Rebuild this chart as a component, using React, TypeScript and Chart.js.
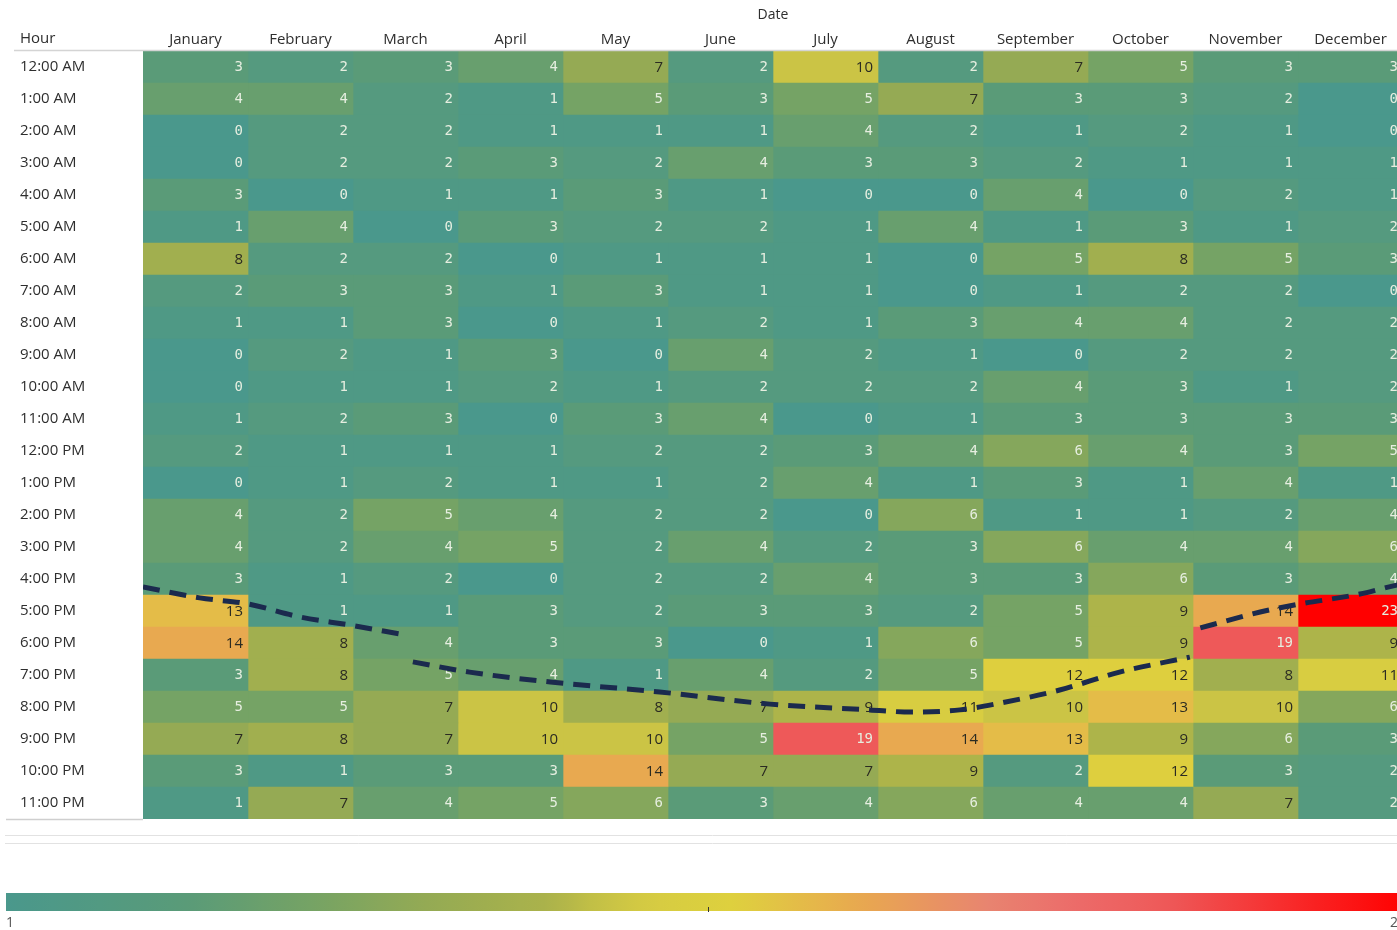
import React, { useEffect, useRef } from "react";
import { Chart, registerables } from "chart.js";

Chart.register(...registerables);

// ---------- data ----------
const months = [
  "January", "February", "March", "April", "May", "June",
  "July", "August", "September", "October", "November", "December",
];

const hours = [
  "12:00 AM", "1:00 AM", "2:00 AM", "3:00 AM", "4:00 AM", "5:00 AM",
  "6:00 AM", "7:00 AM", "8:00 AM", "9:00 AM", "10:00 AM", "11:00 AM",
  "12:00 PM", "1:00 PM", "2:00 PM", "3:00 PM", "4:00 PM", "5:00 PM",
  "6:00 PM", "7:00 PM", "8:00 PM", "9:00 PM", "10:00 PM", "11:00 PM",
];

// counts per hour (12 AM .. 11 PM) for each month
const january = [3, 4, 0, 0, 3, 1, 8, 2, 1, 0, 0, 1, 2, 0, 4, 4, 3, 13, 14, 3, 5, 7, 3, 1];
const february = [2, 4, 2, 2, 0, 4, 2, 3, 1, 2, 1, 2, 1, 1, 2, 2, 1, 1, 8, 8, 5, 8, 1, 7];
const march = [3, 2, 2, 2, 1, 0, 2, 3, 3, 1, 1, 3, 1, 2, 5, 4, 2, 1, 4, 5, 7, 7, 3, 4];
const april = [4, 1, 1, 3, 1, 3, 0, 1, 0, 3, 2, 0, 1, 1, 4, 5, 0, 3, 3, 4, 10, 10, 3, 5];
const may = [7, 5, 1, 2, 3, 2, 1, 3, 1, 0, 1, 3, 2, 1, 2, 2, 2, 2, 3, 1, 8, 10, 14, 6];
const june = [2, 3, 1, 4, 1, 2, 1, 1, 2, 4, 2, 4, 2, 2, 2, 4, 2, 3, 0, 4, 7, 5, 7, 3];
const july = [10, 5, 4, 3, 0, 1, 1, 1, 1, 2, 2, 0, 3, 4, 0, 2, 4, 3, 1, 2, 9, 19, 7, 4];
const august = [2, 7, 2, 3, 0, 4, 0, 0, 3, 1, 2, 1, 4, 1, 6, 3, 3, 2, 6, 5, 11, 14, 9, 6];
const september = [7, 3, 1, 2, 4, 1, 5, 1, 4, 0, 4, 3, 6, 3, 1, 6, 3, 5, 5, 12, 10, 13, 2, 4];
const october = [5, 3, 2, 1, 0, 3, 8, 2, 4, 2, 3, 3, 4, 1, 1, 4, 6, 9, 9, 12, 13, 9, 12, 4];
const november = [3, 2, 1, 1, 2, 1, 5, 2, 2, 2, 1, 3, 3, 4, 2, 4, 3, 14, 19, 8, 10, 6, 3, 7];
const december = [3, 0, 0, 1, 1, 2, 3, 0, 2, 2, 2, 3, 5, 1, 4, 6, 4, 23, 9, 11, 6, 3, 2, 2];

const monthValues = [
  january, february, march, april, may, june,
  july, august, september, october, november, december,
];

// hand-drawn dashed annotation (month position, hour position), null = break
const curveMonthPos = [
  0, 0.54, 1.0, 1.5, 1.97, 2.45,
  null,
  2.57, 3.11, 3.88, 4.92, 5.97, 6.92, 7.32, 7.78, 8.16, 8.73, 9.3, 9.97,
  null,
  10.07, 10.64, 11.02, 11.59, 11.94, 12.0,
];
const curveHourPos = [
  16.75, 17.09, 17.28, 17.69, 17.94, 18.22,
  null,
  19.09, 19.41, 19.72, 20.03, 20.41, 20.59, 20.66, 20.59, 20.38, 19.97, 19.41, 18.94,
  null,
  18.03, 17.53, 17.28, 16.97, 16.69, 16.66,
];

const legendMinLabel = "1";
const legendMaxLabel = "23";

// ---------- styles ----------
const FONT = "'Open Sans', 'DejaVu Sans', sans-serif";
const MONO = "'DejaVu Sans Mono', 'Liberation Mono', monospace";
const TEXT = "#2e2e2e";

const stops: [number, number[]][] = [
  [0.0, [74, 152, 140]],
  [0.13, [90, 155, 120]],
  [0.22, [118, 163, 100]],
  [0.3, [148, 170, 84]],
  [0.39, [172, 179, 74]],
  [0.42, [196, 192, 70]],
  [0.46, [214, 204, 66]],
  [0.52, [222, 208, 62]],
  [0.565, [228, 188, 72]],
  [0.61, [232, 168, 80]],
  [0.7, [232, 132, 112]],
  [0.76, [236, 108, 106]],
  [0.83, [238, 88, 88]],
  [0.92, [248, 40, 40]],
  [1.0, [255, 0, 0]],
];

function rampColor(t: number): string {
  const tt = Math.max(0, Math.min(1, t));
  for (let i = 1; i < stops.length; i++) {
    if (tt <= stops[i][0]) {
      const [t0, c0] = stops[i - 1];
      const [t1, c1] = stops[i];
      const f = (tt - t0) / (t1 - t0);
      const c = c0.map((v, k) => Math.round(v + (c1[k] - v) * f));
      return `rgb(${c[0]},${c[1]},${c[2]})`;
    }
  }
  const c = stops[stops.length - 1][1];
  return `rgb(${c[0]},${c[1]},${c[2]})`;
}

export default function App() {
  const ref = useRef<HTMLCanvasElement>(null);

  useEffect(() => {
    document.body.style.margin = "0";
    const canvas = ref.current;
    if (!canvas) return;
    const all = monthValues.flat();
    const vmin = Math.min(...all);
    const vmax = Math.max(...all);
    const norm = (v: number) => (v - vmin) / (vmax - vmin);

    const barDatasets = months.map((m, mi) => ({
      type: "bar" as const,
      label: m,
      data: hours.map(() => 1),
      backgroundColor: monthValues[mi].map((v) => rampColor(norm(v))),
      borderWidth: 0,
      categoryPercentage: 1,
      barPercentage: 1,
      grouped: false,
      indexAxis: "y" as const,
      xAxisID: "x",
      yAxisID: "y",
      stack: "grid",
      order: 1,
    }));

    const lineDataset = {
      type: "line" as const,
      label: "trend",
      data: curveMonthPos.map((x, i) => ({ x, y: curveHourPos[i] })),
      xAxisID: "xc",
      yAxisID: "yc",
      borderColor: "#1b2a4e",
      borderWidth: 5,
      borderDash: [17, 10],
      borderCapStyle: "butt" as const,
      pointRadius: 0,
      cubicInterpolationMode: "monotone" as const,
      spanGaps: false,
      fill: false,
      order: 0,
    };

    const overlay = {
      id: "overlay",
      beforeDraw(chart: any) {
        const c = chart.ctx;
        c.save();
        c.fillStyle = "#ffffff";
        c.fillRect(0, 0, chart.width, chart.height);
        c.restore();
      },
      beforeDatasetDraw(chart: any, args: any) {
        if (args.meta.type !== "line") return;
        const c = chart.ctx;
        c.save();
        c.textAlign = "right";
        c.textBaseline = "middle";
        monthValues.forEach((vals, mi) => {
          const meta = chart.getDatasetMeta(mi);
          meta.data.forEach((el: any, hi: number) => {
            const v = vals[hi];
            const dark = v >= 7 && v <= 16;
            c.fillStyle = dark ? "#2b2b22" : "#e6eee0";
            c.font = dark ? `15px ${FONT}` : `14px ${MONO}`;
            c.fillText(String(v), el.x - 5, el.y + 0.5);
          });
        });
        c.restore();
      },
      afterDraw(chart: any) {
        const c = chart.ctx;
        const area = chart.chartArea;
        const W = chart.width;
        c.save();
        // row header title
        c.font = `15px ${FONT}`;
        c.fillStyle = TEXT;
        c.textAlign = "left";
        c.textBaseline = "middle";
        c.fillText("Hour", 20, 39);
        // header rule
        c.strokeStyle = "#d4d4d4";
        c.lineWidth = 1.5;
        c.beginPath();
        c.moveTo(14, area.top - 0.5);
        c.lineTo(W, area.top - 0.5);
        c.stroke();
        // bottom rule under row labels
        c.strokeStyle = "#cfcfcf";
        c.lineWidth = 1.5;
        c.beginPath();
        c.moveTo(6, area.bottom + 0.5);
        c.lineTo(area.left, area.bottom + 0.5);
        c.stroke();
        // separator lines
        c.strokeStyle = "#e2e2e2";
        c.lineWidth = 1;
        [835.5, 843.5].forEach((y) => {
          c.beginPath();
          c.moveTo(5, y);
          c.lineTo(W, y);
          c.stroke();
        });
        // colour legend
        const lx0 = 6, lx1 = 1409, ly0 = 893, ly1 = 911;
        const g = c.createLinearGradient(lx0, 0, lx1, 0);
        for (let i = 0; i <= 60; i++) g.addColorStop(i / 60, rampColor(i / 60));
        c.fillStyle = g;
        c.fillRect(lx0, ly0, lx1 - lx0, ly1 - ly0);
        c.strokeStyle = "#333";
        c.lineWidth = 1;
        const mid = Math.round((lx0 + lx1) / 2) + 0.5;
        c.beginPath();
        c.moveTo(mid, ly1 - 4);
        c.lineTo(mid, ly1 + 1);
        c.stroke();
        c.font = `14px ${FONT}`;
        c.fillStyle = "#555";
        c.textBaseline = "top";
        c.textAlign = "left";
        c.fillText(legendMinLabel, 6, 916);
        c.textAlign = "right";
        c.fillText(legendMaxLabel, 1406, 916);
        c.restore();
      },
    };

    const chart = new Chart(canvas, {
      type: "bar",
      data: {
        labels: hours,
        datasets: [...barDatasets, lineDataset] as any,
      },
      options: {
        animation: false,
        responsive: false,
        maintainAspectRatio: false,
        events: [],
        layout: { padding: { left: 20, right: 17, top: 0, bottom: 111 } },
        plugins: {
          legend: { display: false },
          tooltip: { enabled: false },
        },
        scales: {
          x: { type: "linear", stacked: true, offset: false, min: 0, max: 12, display: false },
          y: {
            type: "category",
            stacked: true,
            position: "left",
            offset: true,
            grid: { display: false, drawTicks: false },
            border: { display: false },
            ticks: {
              crossAlign: "far",
              autoSkip: false,
              padding: 0,
              color: TEXT,
              font: { family: FONT, size: 15 },
            },
            afterFit: (s: any) => {
              s.width = 123;
            },
          },
          xTop: {
            type: "category",
            labels: months,
            position: "top",
            offset: true,
            grid: { display: false, drawTicks: false },
            border: { display: false },
            ticks: {
              autoSkip: false,
              maxRotation: 0,
              padding: 2,
              color: TEXT,
              font: { family: FONT, size: 15 },
            },
            title: {
              display: true,
              text: "Date",
              color: TEXT,
              font: { family: FONT, size: 14 },
              padding: { top: 7, bottom: 0 },
            },
            afterFit: (s: any) => {
              s.height = 51;
            },
          },
          xc: { type: "linear", offset: false, min: 0, max: 12, display: false },
          yc: { type: "linear", offset: false, min: 0, max: 24, reverse: true, display: false },
        },
      } as any,
      plugins: [overlay],
    });

    return () => {
      chart.destroy();
    };
  }, []);

  return (
    <div
      style={{
        position: "fixed",
        left: 0,
        top: 0,
        width: 1397,
        height: 930,
        overflow: "hidden",
        background: "#fff",
      }}
    >
      <canvas
        ref={ref}
        width={1420}
        height={930}
        style={{ display: "block", width: 1420, height: 930 }}
      />
    </div>
  );
}
